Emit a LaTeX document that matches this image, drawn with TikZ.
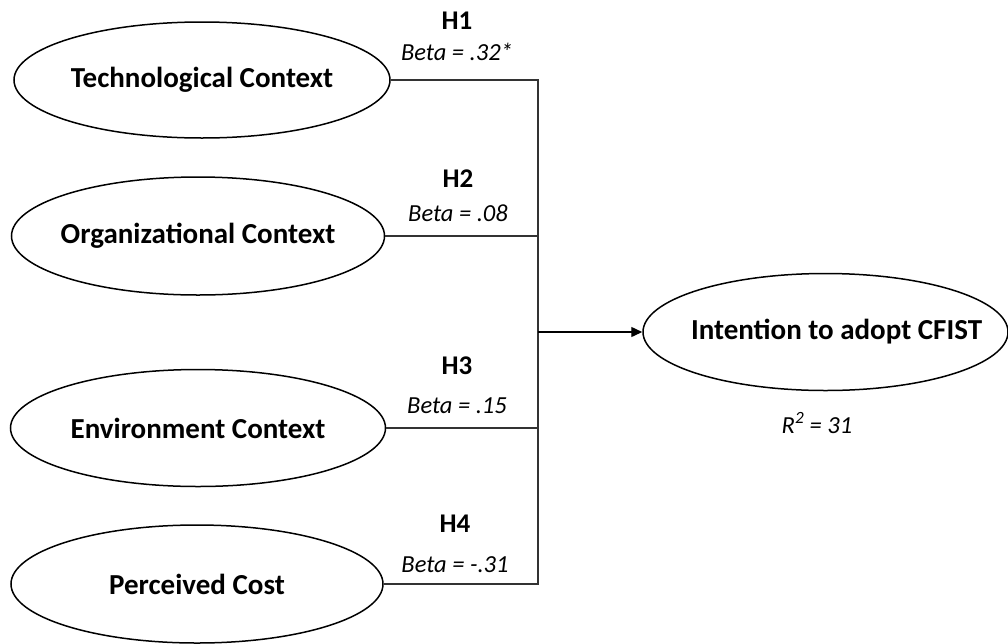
\documentclass[tikz,border=0pt]{standalone}
\usepackage{fontspec}
\setmainfont{Carlito}
\usetikzlibrary{shapes.geometric,arrows.meta}

% zero-width label so the ellipse keeps its given size
\newcommand{\ctext}[1]{\makebox[0pt][c]{#1}}

\begin{document}
\begin{tikzpicture}[x=1pt,y=-1pt,
  construct/.style={ellipse,draw=black,line width=1.5pt,inner sep=0pt,
    font=\fontsize{29}{35}\selectfont\bfseries},
  hyp/.style={anchor=base,font=\fontsize{27}{32}\selectfont\bfseries},
  beta/.style={anchor=base,font=\fontsize{24.5}{29}\selectfont\itshape},
  link/.style={draw=black!80,line width=1.2pt},
]
\useasboundingbox (0,0) rectangle (1008,643);

% exogenous constructs
\node[construct,minimum width=376pt,minimum height=116pt] (tech) at (202,80) {\ctext{Technological Context}};
\node[construct,minimum width=373pt,minimum height=118pt] (org) at (198,236) {\ctext{Organizational Context}};
\node[construct,minimum width=375pt,minimum height=117pt] (env) at (198,428) {\ctext{Environment Context}};
\node[construct,minimum width=372pt,minimum height=118pt] (cost) at (197,584) {\ctext{Perceived Cost}};

% endogenous construct
\node[construct,minimum width=365pt,minimum height=117pt] (int) at (825.5,332) {\ctext{\hspace*{22pt}Intention to adopt CFIST}};
\node[beta] (r2) at (817,433) {R\textsuperscript{2} = 31};

% hypothesis labels
\node[hyp] (h1) at (457,29) {H1};
\node[beta] (b1) at (457,60) {Beta = .32*};
\node[hyp] (h2) at (458,187) {H2};
\node[beta] (b2) at (458,221) {Beta = .08};
\node[hyp] (h3) at (457,374) {H3};
\node[beta] (b3) at (457,413) {Beta = .15};
\node[hyp] (h4) at (455,532) {H4};
\node[beta] (b4) at (455,572) {Beta = -.31};

% paths joining at a common point
\coordinate (j) at (538,332);
\draw[link] (tech.east) -| (j);
\draw[link] (org.east) -| (j);
\draw[link] (env.east) -| (j);
\draw[link] (cost.east) -| (j);
\draw[draw=black,line width=1.4pt,-{Triangle[length=11pt,width=10pt]}] (j) -- (int.west);
\end{tikzpicture}
\end{document}
